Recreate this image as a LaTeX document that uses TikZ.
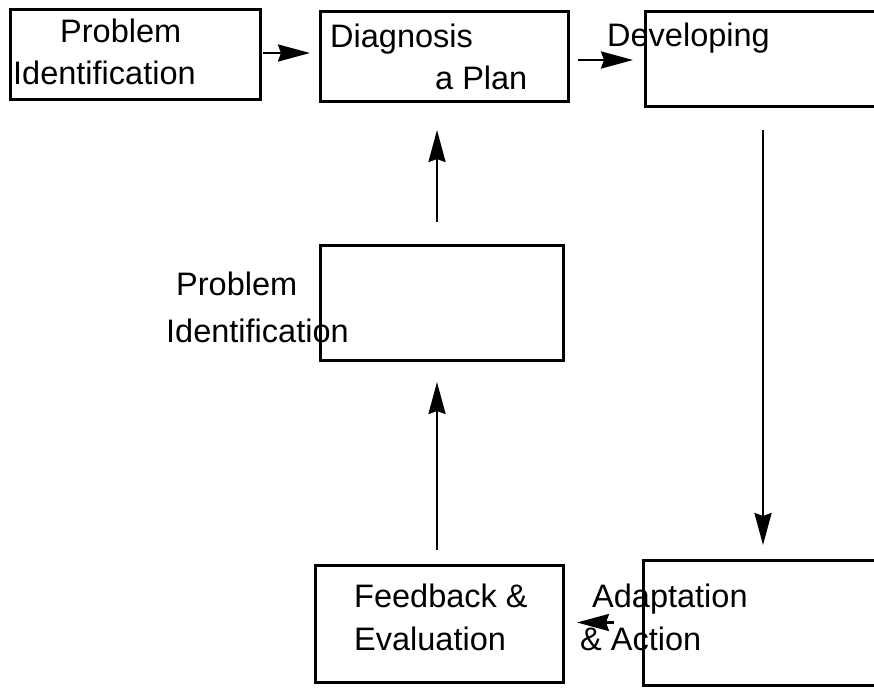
\documentclass[tikz,border=0pt]{standalone}
\usepackage{fontspec}
\setmainfont{Liberation Sans}
\usetikzlibrary{arrows.meta}
\begin{document}
\begin{tikzpicture}[x=1pt,y=-1pt,
  box/.style={draw, line width=3pt, inner sep=0pt, outer sep=0pt},
  lbl/.style={anchor=base west, inner sep=0pt, font=\fontsize{32.5}{39}\selectfont},
  arr/.style={line width=2.5pt, -{Stealth[length=32pt,width=17pt,inset=3pt]}}]
\useasboundingbox (0,0) rectangle (874,687);
\clip (0,0) rectangle (874,687);
% boxes
\node[box, minimum width=250pt, minimum height=90pt]  (A) at (135,55) {};
\node[box, minimum width=248pt, minimum height=90pt]  (B) at (444,57) {};
\node[box, minimum width=255pt, minimum height=95pt]  (C) at (772.5,59.5) {};
\node[box, minimum width=243pt, minimum height=115pt] (M) at (441.5,302.5) {};
\node[box, minimum width=248pt, minimum height=117pt] (F) at (439,623.5) {};
\node[box, minimum width=257pt, minimum height=125pt] (D) at (771.5,622.5) {};
% labels
\node[lbl] (t1) at (60,43) {Problem};
\node[lbl] (t2) at (13,85) {Identification};
\node[lbl] (t3) at (330,48) {Diagnosis};
\node[lbl] (t4) at (435,90) {a Plan};
\node[lbl] (t5) at (607,47) {Developing};
\node[lbl] (t6) at (176,295) {Problem};
\node[lbl] (t7) at (166,342) {Identification};
\node[lbl] (t8) at (354,607) {Feedback \&};
\node[lbl] (t9) at (354,650) {Evaluation};
\node[lbl] (t10) at (592,607) {Adaptation};
\node[lbl] (t11) at (580,650) {\& Action};
% connectors
\draw[arr, shorten <=3pt, shorten >=10pt] ([yshift=2pt]A.east) -- ([yshift=4pt]B.west);
\draw[arr, shorten <=10pt, shorten >=12pt] ([yshift=-3pt]B.east) -- ([yshift=-3pt]B.east -| C.west);
\draw[arr, shorten <=23pt, shorten >=15pt] ([xshift=-9.5pt]C.south) -- ([xshift=-9.5pt]C.south |- D.north);
\draw[arr, shorten <=29pt, shorten >=14pt] (D.west) -- (D.west -| F.east);
\draw[arr, shorten <=15pt, shorten >=22pt] ([xshift=-2pt]F.north) -- ([xshift=-2pt]F.north |- M.south);
\draw[arr, shorten <=23pt, shorten >=28pt] ([xshift=-4.5pt]M.north) -- ([xshift=-4.5pt]M.north |- B.south);
\end{tikzpicture}
\end{document}
